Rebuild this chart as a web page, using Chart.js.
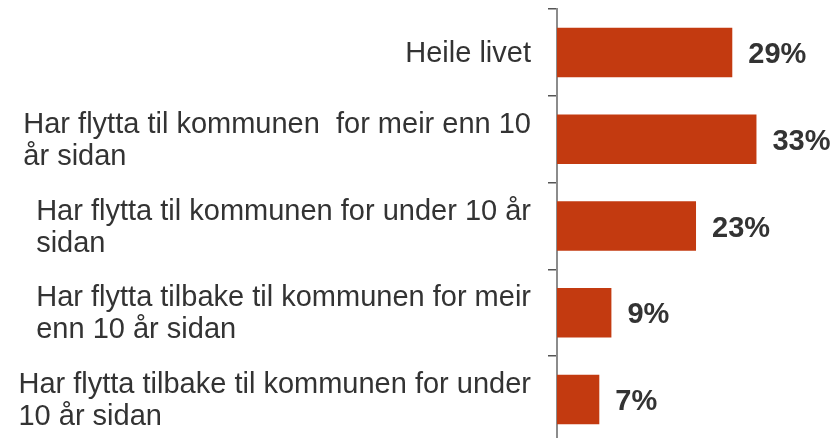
<!DOCTYPE html>
<html>
<head>
<meta charset="utf-8">
<script src="https://cdn.jsdelivr.net/npm/chart.js@4"></script>
<style>
  html, body { margin: 0; padding: 0; background: #fff; overflow: hidden; }
  #wrap { width: 835px; height: 443px; }
</style>
</head>
<body>
<div id="wrap"><canvas id="chart" width="835" height="443"></canvas></div>
<script>
const categories = [
  ['Heile livet'],
  ['Har flytta til kommunen  for meir enn 10', 'år sidan'],
  ['Har flytta til kommunen for under 10 år', 'sidan'],
  ['Har flytta tilbake til kommunen for meir', 'enn 10 år sidan'],
  ['Har flytta tilbake til kommunen for under', '10 år sidan']
];
const shares = [29, 33, 23, 9, 7];

const textColor = '#333333';
const barColor = '#c33a10';

// category labels: block right aligned next to the axis, lines left aligned inside it
const categoryLabels = {
  id: 'categoryLabels',
  afterDraw(chart) {
    const ctx = chart.ctx;
    const yScale = chart.scales.y;
    const right = chart.chartArea.left - 27;
    const lineHeight = 32;
    ctx.save();
    ctx.font = '29px "Liberation Sans", Arial, sans-serif';
    ctx.fillStyle = textColor;
    ctx.textAlign = 'left';
    ctx.textBaseline = 'middle';
    categories.forEach((lines, i) => {
      const y = yScale.getPixelForValue(i) + 1.5;
      const w = Math.max(...lines.map(l => ctx.measureText(l).width));
      lines.forEach((line, k) => {
        ctx.fillText(line, right - w + 1, y + (k - (lines.length - 1) / 2) * lineHeight);
      });
    });
    ctx.restore();
  }
};

// value labels at bar ends
const valueLabels = {
  id: 'valueLabels',
  afterDatasetsDraw(chart) {
    const ctx = chart.ctx;
    const meta = chart.getDatasetMeta(0);
    ctx.save();
    ctx.font = 'bold 29px "Liberation Sans", Arial, sans-serif';
    ctx.fillStyle = textColor;
    ctx.textAlign = 'left';
    ctx.textBaseline = 'middle';
    meta.data.forEach((bar, i) => {
      ctx.fillText(shares[i] + '%', bar.x + 16, bar.y + 2.5);
    });
    ctx.restore();
  }
};

const ctx = document.getElementById('chart').getContext('2d');
const chart = new Chart(ctx, {
  type: 'bar',
  data: {
    labels: categories.map(c => c.join(' ')),
    datasets: [{
      data: shares,
      backgroundColor: barColor,
      borderWidth: 0,
      categoryPercentage: 1,
      barPercentage: 0.57
    }]
  },
  options: {
    indexAxis: 'y',
    responsive: false,
    animation: false,
    layout: { padding: { top: 9, right: 6, bottom: 0, left: 0 } },
    plugins: {
      legend: { display: false },
      tooltip: { enabled: false }
    },
    scales: {
      x: {
        display: false,
        min: 0,
        max: 45
      },
      y: {
        afterFit(scale) { scale.width = 557; },
        ticks: { display: false },
        grid: {
          display: true,
          drawOnChartArea: false,
          drawTicks: true,
          tickLength: 9,
          offset: true,
          color: '#555555',
          lineWidth: 1.5
        },
        border: { display: true, color: '#8c8c8c', width: 2 }
      }
    }
  },
  plugins: [categoryLabels, valueLabels]
});
</script>
</body>
</html>
